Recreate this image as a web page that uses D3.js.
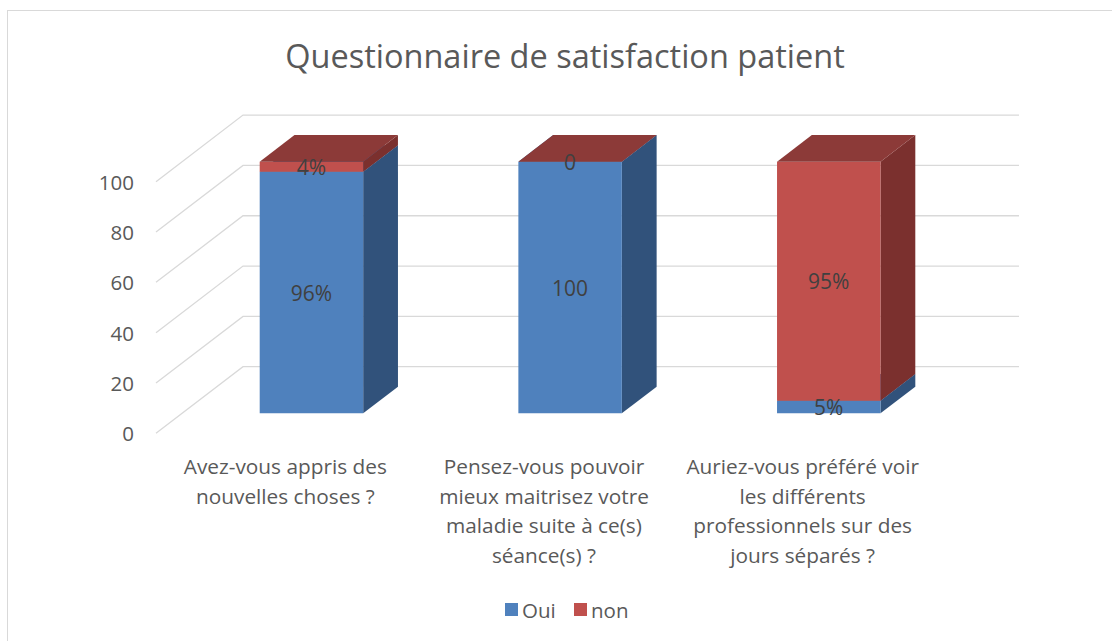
<!DOCTYPE html>
<html>
<head>
<meta charset="utf-8">
<script src="https://cdn.jsdelivr.net/npm/d3@7"></script>
<style>
  body { margin: 0; background: #fff; }
  text { font-family: "Open Sans", Lato, sans-serif; }
</style>
</head>
<body>
<div id="chart"></div>
<script>
// data
const categories = ["Q1", "Q2", "Q3"]
const categoryLines = [
    ["Avez-vous appris des", "nouvelles choses ?"],
    ["Pensez-vous pouvoir", "mieux maitrisez votre", "maladie suite à ce(s)", "séance(s) ?"],
    ["Auriez-vous préféré voir", "les différents", "professionnels sur des", "jours séparés ?"]
]
const seriesNames = ["Oui", "non"]
const ouiValues = [96, 100, 5]
const nonValues = [4, 0, 95]
const ouiLabels = ["96%", "100", "5%"]
const nonLabels = ["4%", "0", "95%"]
const yTicks = [0, 20, 40, 60, 80, 100]

let width = 1112
let height = 641

let svg = d3.select("#chart").append("svg")
    .attr("width", width)
    .attr("height", height)

// chart border
svg.append("rect")
    .attr("x", 7.5).attr("y", 10.5)
    .attr("width", 1110).attr("height", 640)
    .attr("fill", "none")
    .attr("stroke", "#d9d9d9")

svg.append("text")
    .attr("x", 565).attr("y", 55)
    .attr("text-anchor", "middle")
    .attr("dominant-baseline", "central")
    .attr("font-size", 32.5)
    .attr("fill", "#595959")
    .text("Questionnaire de satisfaction patient")

// front plane of the 3d box
let x = d3.scaleBand().domain(categories).range([156, 932]).paddingInner(0.6).paddingOuter(0.3)
let y = d3.scaleLinear([0, 100], [433.3, 181.7])
// depth: 0 = front, 1 = back wall
let depthX = d3.scaleLinear([0, 1], [0, 87])
let depthY = d3.scaleLinear([0, 1], [0, -66.6])
let backRight = 1019

function pt(px, py, z) {
    return [px + depthX(z), py + depthY(z)]
}

// gridlines on side and back wall
let grid = svg.append("g")
    .attr("stroke", "#d9d9d9")
    .attr("stroke-width", 1.3)
    .attr("fill", "none")

yTicks.forEach(v => {
    let a = pt(156, y(v), 0)
    let b = pt(156, y(v), 1)
    grid.append("path").attr("d", d3.line()([a, b, [backRight, b[1]]]))
})

svg.append("g")
    .selectAll("text")
    .data(yTicks)
    .join("text")
    .attr("x", 134)
    .attr("y", d => y(d))
    .attr("text-anchor", "end")
    .attr("dominant-baseline", "central")
    .attr("font-size", 20.5)
    .attr("fill", "#595959")
    .text(d => d)

const colors = {
    Oui: { front: "#4f81bd", side: "#31527b", top: "#3d6596" },
    non: { front: "#c0504d", side: "#7b302e", top: "#8c3a38" }
}

let z0 = 0.3, z1 = 0.7
let bars = svg.append("g")

categories.forEach((c, i) => {
    let segs = [
        { name: "Oui", v0: 0, v1: ouiValues[i], label: ouiLabels[i] },
        { name: "non", v0: ouiValues[i], v1: ouiValues[i] + nonValues[i], label: nonLabels[i] }
    ]
    let xl = x(c), xr = x(c) + x.bandwidth()
    segs.forEach(s => {
        let col = colors[s.name]
        let yb = y(s.v0), yt = y(s.v1)
        // side face
        bars.append("path")
            .attr("d", d3.line()([pt(xr, yb, z0), pt(xr, yb, z1), pt(xr, yt, z1), pt(xr, yt, z0)]) + "Z")
            .attr("fill", col.side)
        // front face
        bars.append("path")
            .attr("d", d3.line()([pt(xl, yb, z0), pt(xr, yb, z0), pt(xr, yt, z0), pt(xl, yt, z0)]) + "Z")
            .attr("fill", col.front)
        // top face
        bars.append("path")
            .attr("d", d3.line()([pt(xl, yt, z0), pt(xr, yt, z0), pt(xr, yt, z1), pt(xl, yt, z1)]) + "Z")
            .attr("fill", col.top)
    })
    segs.forEach(s => {
        let c0 = pt((xl + xr) / 2, (y(s.v0) + y(s.v1)) / 2, z0)
        bars.append("text")
            .attr("x", c0[0])
            .attr("y", c0[1])
            .attr("text-anchor", "middle")
            .attr("dominant-baseline", "central")
            .attr("font-size", 21)
            .attr("fill", "#404040")
            .text(s.label)
    })
})

// category labels, centred under the front band
let catG = svg.append("g")
categories.forEach((c, i) => {
    let cx = x(c) + x.bandwidth() / 2
    categoryLines[i].forEach((line, j) => {
        catG.append("text")
            .attr("x", cx)
            .attr("y", 466 + j * 29.7)
            .attr("text-anchor", "middle")
            .attr("dominant-baseline", "central")
            .attr("font-size", 20.8)
            .attr("fill", "#595959")
            .text(line)
    })
})

// legend
let legend = svg.append("g")
let legendX = [505, 574]
seriesNames.forEach((n, i) => {
    legend.append("rect")
        .attr("x", legendX[i]).attr("y", 603)
        .attr("width", 13).attr("height", 13)
        .attr("fill", colors[n].front)
    legend.append("text")
        .attr("x", legendX[i] + 17).attr("y", 610)
        .attr("dominant-baseline", "central")
        .attr("font-size", 20.5)
        .attr("fill", "#595959")
        .text(n)
})
</script>
</body>
</html>
